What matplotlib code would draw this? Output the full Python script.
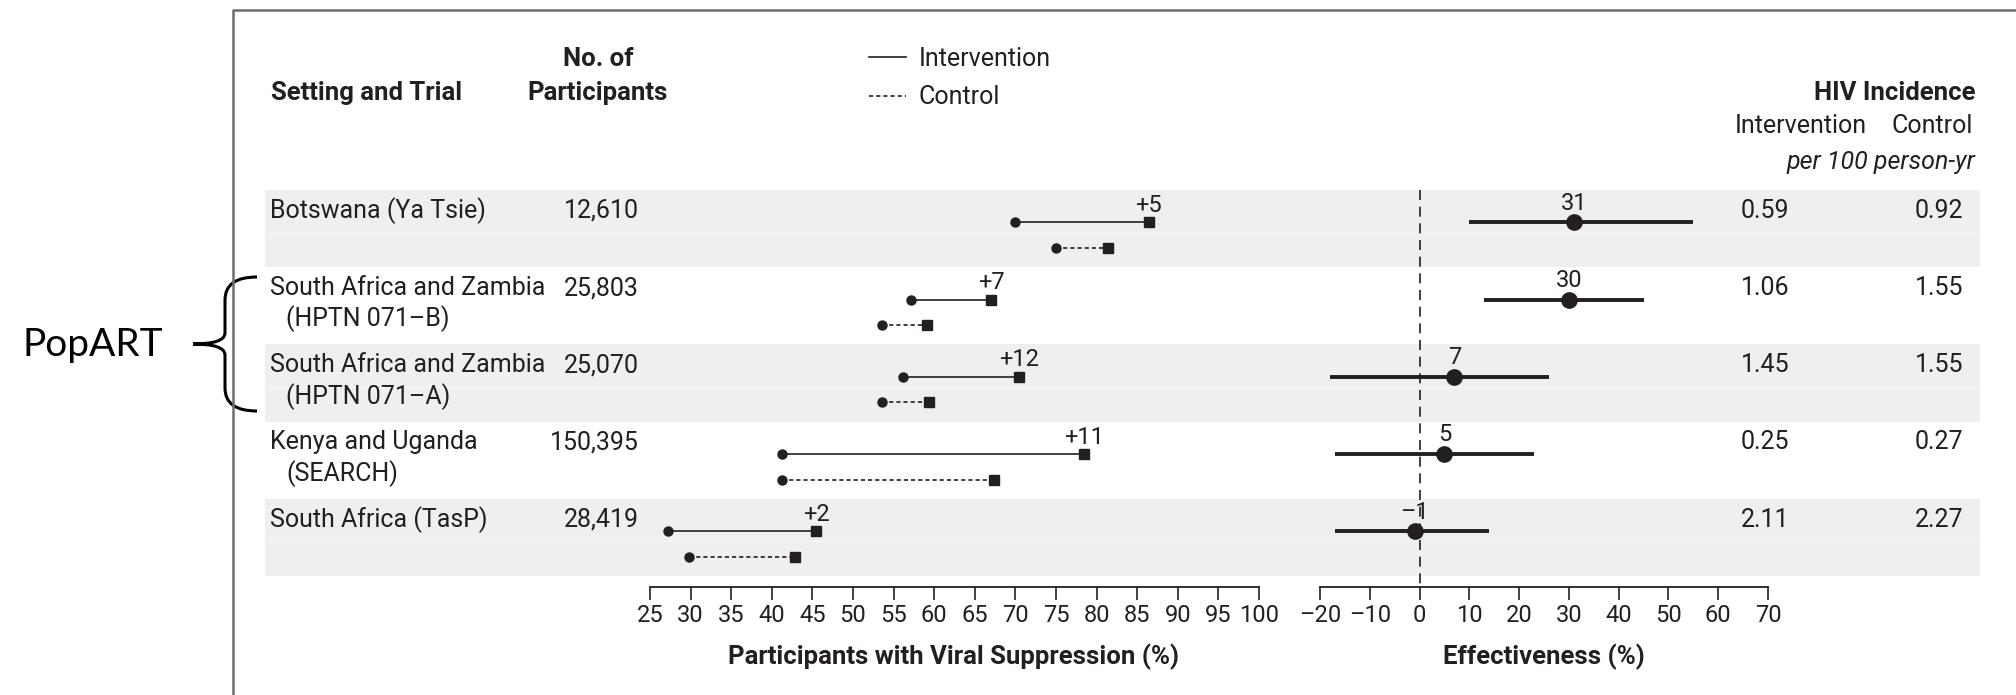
import matplotlib.pyplot as plt
from matplotlib.lines import Line2D
from matplotlib.patches import Rectangle, PathPatch
from matplotlib.path import Path

# ---------------- data ----------------
trials = ["Botswana (Ya Tsie)", "South Africa and Zambia", "South Africa and Zambia",
          "Kenya and Uganda", "South Africa (TasP)"]
trial_sub = ["", "(HPTN 071\u2013B)", "(HPTN 071\u2013A)", "(SEARCH)", ""]
participants = ["12,610", "25,803", "25,070", "150,395", "28,419"]

# viral suppression (%) at start / end of trial
int_start = [70.0, 57.2, 56.1, 41.2, 27.2]
int_end = [86.4, 67.0, 70.4, 78.5, 45.5]
ctl_start = [75.0, 53.6, 53.6, 41.2, 29.8]
ctl_end = [81.4, 59.1, 59.4, 67.4, 42.9]
diff_labels = ["+5", "+7", "+12", "+11", "+2"]

# effectiveness (%) with 95% CI
eff = [31, 30, 7, 5, -1]
eff_lo = [10, 13, -18, -17, -17]
eff_hi = [55, 45, 26, 23, 14]

inc_int = ["0.59", "1.06", "1.45", "0.25", "2.11"]
inc_ctl = ["0.92", "1.55", "1.55", "0.27", "2.27"]

vs_ticks = list(range(25, 101, 5))
eff_ticks = list(range(-20, 71, 10))

# ---------------- layout ----------------
W, H = 2016, 695
TOP, ROW_H, AXIS_Y = 190, 77.2, 587
INT_F, CTL_F = 0.42, 0.75
INK = "#231f20"
BAND = "#efefef"

plt.rcParams['font.family'] = ['Roboto', 'DejaVu Sans']
FS = 18
FSB = 18.5
FST = 17

fig = plt.figure(figsize=(W / 100, H / 100), dpi=100)
bg = fig.add_axes([0, 0, 1, 1])
bg.set_xlim(0, W)
bg.set_ylim(H, 0)
bg.axis('off')


def ry(i, f):
    return TOP + ROW_H * (i + f)


# frame
bg.plot([233, 233, W], [H, 10, 10], color="#6d6d6d", lw=1.8, solid_capstyle='butt')

# row bands
n = len(trials)
for i in range(0, n, 2):
    bg.add_patch(Rectangle((265, ry(i, 0)), 1715, ROW_H, color=BAND, lw=0, zorder=0))
    bg.plot([265, 1980], [ry(i, 0.55)] * 2, color="#f6f6f6", lw=0.8, zorder=0.5)

# headers
bg.text(271, 93, "Setting and Trial", fontsize=FSB, fontweight='bold', color=INK, va='center')
bg.text(598, 59, "No. of", fontsize=FSB, fontweight='bold', color=INK, va='center', ha='center')
bg.text(598, 93, "Participants", fontsize=FSB, fontweight='bold', color=INK, va='center', ha='center')
bg.text(1895, 93, "HIV Incidence", fontsize=FSB, fontweight='bold', color=INK, va='center', ha='center')
bg.text(1801, 126, "Intervention", fontsize=FS, color=INK, va='center', ha='center')
bg.text(1932, 126, "Control", fontsize=FS, color=INK, va='center', ha='center')
bg.text(1975, 162, "per 100 person-yr", fontsize=FS, style='italic', color=INK, va='center', ha='right')

# row texts
for i in range(n):
    bg.text(270, ry(i, 0.27), trials[i], fontsize=FS, color=INK, va='center')
    if trial_sub[i]:
        bg.text(286, ry(i, 0.67), trial_sub[i], fontsize=FS, color=INK, va='center')
    bg.text(639, ry(i, 0.27), participants[i], fontsize=FS, color=INK, va='center', ha='right')
    bg.text(1765, ry(i, 0.27), inc_int[i], fontsize=FS, color=INK, va='center', ha='center')
    bg.text(1939, ry(i, 0.27), inc_ctl[i], fontsize=FS, color=INK, va='center', ha='center')

# axis titles
bg.text(954, 657, "Participants with Viral Suppression (%)", fontsize=FSB, fontweight='bold',
        color=INK, va='center', ha='center')
bg.text(1544, 657, "Effectiveness (%)", fontsize=FSB, fontweight='bold',
        color=INK, va='center', ha='center')

# PopART brace
bg.text(93, 345, "PopART", fontsize=28, family=['Lato', 'DejaVu Sans'], color='black',
        va='center', ha='center')
verts = [(257, 277), (225, 277), (225, 300), (225, 333), (225, 344), (193, 344),
         (225, 344), (225, 355), (225, 388), (225, 411), (257, 411)]
codes = [Path.MOVETO, Path.CURVE3, Path.CURVE3, Path.LINETO, Path.CURVE3, Path.CURVE3,
         Path.CURVE3, Path.CURVE3, Path.LINETO, Path.CURVE3, Path.CURVE3]
bg.add_patch(PathPatch(Path(verts, codes), fill=False, lw=2.2, color='black'))

# ---------------- data panels ----------------
ylim = ((AXIS_Y - TOP) / ROW_H, 0)


def panel(x0, x1, lo, hi, ticks):
    ax = fig.add_axes([x0 / W, 1 - AXIS_Y / H, (x1 - x0) / W, (AXIS_Y - TOP) / H])
    ax.patch.set_alpha(0)
    ax.set_xlim(lo, hi)
    ax.set_ylim(*ylim)
    for s in ['top', 'left', 'right']:
        ax.spines[s].set_visible(False)
    ax.spines['bottom'].set_color(INK)
    ax.spines['bottom'].set_linewidth(1.3)
    ax.set_yticks([])
    ax.set_xticks(ticks)
    ax.set_xticklabels([str(t).replace('-', '\u2013') for t in ticks])
    ax.tick_params(axis='x', direction='out', length=9, width=1.2, color=INK,
                   labelsize=FST, labelcolor=INK, pad=3)
    return ax


ax1 = panel(650, 1259, 25, 100, vs_ticks)
ax2 = panel(1320, 1768, -20, 70, eff_ticks)

for i in range(n):
    yi, yc = i + INT_F, i + CTL_F
    ax1.plot([int_start[i], int_end[i]], [yi, yi], color=INK, lw=1.2, zorder=2)
    ax1.plot([ctl_start[i], ctl_end[i]], [yc, yc], color=INK, lw=1.2, ls=(0, (2.5, 1.8)), zorder=2)
    ax1.plot([int_start[i], ctl_start[i]], [yi, yc], 'o', color=INK, ms=6.5, zorder=3)
    ax1.plot([int_end[i], ctl_end[i]], [yi, yc], 's', color=INK, ms=7.5, zorder=3)
    ax1.text(int_end[i], yi - 0.07, diff_labels[i], fontsize=FST, color=INK,
             ha='center', va='bottom')

    ax2.plot([eff_lo[i], eff_hi[i]], [yi, yi], color=INK, lw=2.8, solid_capstyle='butt', zorder=2)
    ax2.plot(eff[i], yi, 'o', color=INK, ms=11, zorder=3)
    ax2.text(eff[i], yi - 0.1, str(eff[i]).replace('-', '\u2013'), fontsize=FST,
             color=INK, ha='center', va='bottom')

ax2.plot([0, 0], [0, ylim[0]], color=INK, lw=1.2, ls=(0, (6, 4)), zorder=1)

# legend
handles = [Line2D([], [], color=INK, lw=1.2),
           Line2D([], [], color=INK, lw=1.2, ls=(0, (2.5, 1.8)))]
fig.legend(handles, ["Intervention", "Control"], loc='upper left',
           bbox_to_anchor=(846 / W, 1 - 24 / H), frameon=False, fontsize=FS,
           handlelength=1.5, handletextpad=0.5, labelspacing=0.6, labelcolor=INK)

fig.savefig("out.png", dpi=100)
